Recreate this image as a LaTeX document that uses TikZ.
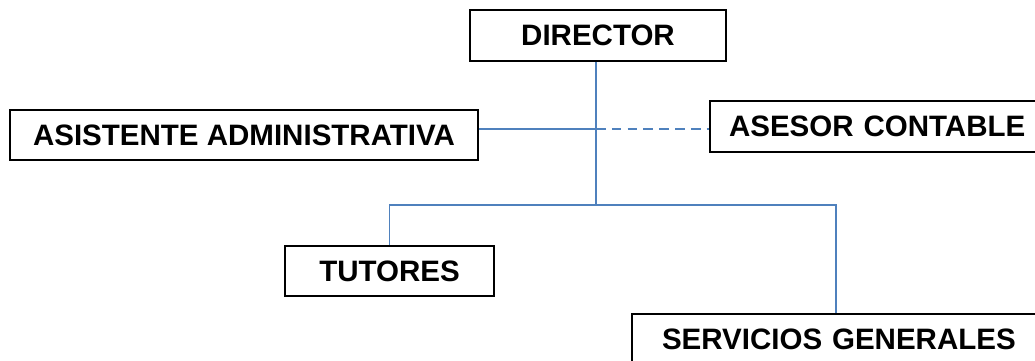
\documentclass[tikz,border=0pt]{standalone}
\usepackage{fontspec}
\setmainfont{Liberation Sans}
\definecolor{linkblue}{RGB}{79,129,189}
\begin{document}
\begin{tikzpicture}[x=0.02cm, y=-0.02cm,
  cargo/.style={draw, line width=1.1pt, fill=white, inner sep=0pt, font=\fontsize{16.8pt}{19pt}\selectfont\bfseries},
  enlace/.style={linkblue, line width=1.1pt}]
\useasboundingbox (0,0) rectangle (1035,360);
\clip (0,0) rectangle (1035,360);
\node[cargo, minimum width=5.12cm, minimum height=1.02cm] (director) at (598,35.5){DIRECTOR};
\node[cargo, minimum width=9.36cm, minimum height=1.0cm] (asistente) at (244,135){ASISTENTE ADMINISTRATIVA};
\node[cargo, minimum width=6.6cm, minimum height=1.02cm, text width=6.4cm, align=left] (asesor) at (875,126.5){\hspace*{0.28cm}ASESOR CONTABLE};
\node[cargo, minimum width=4.18cm, minimum height=1.0cm] (tutores) at (389.5,271){TUTORES};
\node[cargo, minimum width=8.16cm, minimum height=1.0cm, text width=6.96cm, align=left, anchor=north] (servicios) at (836,313){\raisebox{-0.35cm}{SERVICIOS GENERALES}};
\coordinate (hub) at (596,129);
\coordinate (bus) at (596,205);
\draw[enlace](director.south -| hub) -- (bus);
\draw[enlace](asistente.east |- hub) -- (hub);
\draw[enlace, dash pattern=on 5.5pt off 3.5pt](hub) -- (asesor.west |- hub);
\draw[enlace](tutores.north) |- (bus) -| (servicios.north);
\end{tikzpicture}
\end{document}
